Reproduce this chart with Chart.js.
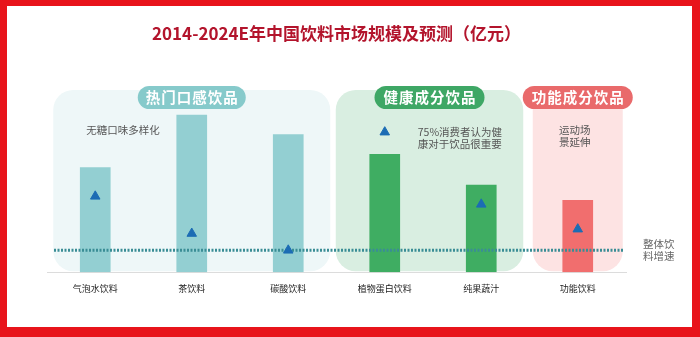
<!DOCTYPE html>
<html lang="zh">
<head>
<meta charset="utf-8">
<title>2014-2024E年中国饮料市场规模及预测</title>
<script src="https://cdn.jsdelivr.net/npm/chart.js@4.4.1/dist/chart.umd.min.js"></script>
<style>
  html, body { margin: 0; padding: 0; background: #fff; }
  canvas { display: block; }
</style>
</head>
<body>
<canvas id="grafico" width="700" height="337"></canvas>
<script>
// categorias e valores
const categorias = ["气泡水饮料", "茶饮料", "碳酸饮料", "植物蛋白饮料", "纯果蔬汁", "功能饮料"];
const grupoDaCategoria = [0, 0, 0, 1, 1, 2];
const tamanhoMercado = [48, 72, 63, 54, 40, 33];
const crescimento = [10.4, 5.3, 3.0, 19.2, 9.3, 5.9];
const crescimentoGeral = 3.0;

const grupos = ["热门口感饮品", "健康成分饮品", "功能成分饮品"];
const notas = [["无糖口味多样化"], ["75%消费者认为健", "康对于饮品很重要"], ["运动场", "景延伸"]];
const notaGeral = ["整体饮", "料增速"];

const FONTE = '"Noto Sans CJK SC", "Noto Sans", sans-serif';
const corBarra = ["#93cfd2", "#3fad62", "#f16e6e"];
const corFundo = ["#eef7f8", "#d9eee1", "#fde3e3"];
const corSelo = ["#86cacb", "#3ea765", "#e96a6b"];

function retanguloRedondo(ctx, x, y, w, h, r) {
  ctx.beginPath();
  ctx.moveTo(x + r, y);
  ctx.arcTo(x + w, y, x + w, y + h, r);
  ctx.arcTo(x + w, y + h, x, y + h, r);
  ctx.arcTo(x, y + h, x, y, r);
  ctx.arcTo(x, y, x + w, y, r);
  ctx.closePath();
}

// paineis dos grupos, selos, notas, linha de crescimento geral e moldura
const decoracao = {
  id: "decoracao",
  beforeDatasetsDraw(chart) {
    const { ctx, chartArea, scales } = chart;
    const x = i => scales.x.getPixelForValue(i);
    const paineis = [
      [x(0) - 42, x(2) + 42],
      [x(3) - 49, x(4) + 42],
      [x(5) - 45, x(5) + 45]
    ];
    ctx.save();
    paineis.forEach((p, g) => {
      ctx.fillStyle = corFundo[g];
      retanguloRedondo(ctx, p[0], 90, p[1] - p[0], chartArea.bottom - 91, 20);
      ctx.fill();
    });
    paineis.forEach((p, g) => {
      const cx = (p[0] + p[1]) / 2;
      const w = g === 0 ? 108 : 110;
      ctx.fillStyle = corSelo[g];
      retanguloRedondo(ctx, cx - w / 2, 86, w, 23, 11.5);
      ctx.fill();
      ctx.fillStyle = "#fff";
      ctx.font = "bold 14.5px " + FONTE;
      ctx.letterSpacing = "1px";
      ctx.textAlign = "center";
      ctx.textBaseline = "middle";
      ctx.fillText(grupos[g], cx + 0.5, 97.5);
    });
    ctx.letterSpacing = "0px";
    ctx.fillStyle = "#555";
    ctx.font = "10.5px " + FONTE;
    ctx.textBaseline = "middle";
    ctx.textAlign = "left";
    ctx.fillText(notas[0][0], x(0) - 9, 130);
    notas[1].forEach((t, i) => ctx.fillText(t, x(3) + 33, 132 + i * 12));
    ctx.textAlign = "center";
    notas[2].forEach((t, i) => ctx.fillText(t, x(5) - 3, 130 + i * 12));
    ctx.restore();
  },
  afterDatasetDraw(chart, args) {
    if (args.index !== 0) return;
    const { ctx, chartArea, scales } = chart;
    const y = scales.y1.getPixelForValue(crescimentoGeral);
    ctx.save();
    ctx.strokeStyle = "#3a8d95";
    ctx.lineWidth = 3;
    ctx.setLineDash([2, 1.5]);
    ctx.beginPath();
    ctx.moveTo(chartArea.left + 7, y);
    ctx.lineTo(chartArea.right - 3, y);
    ctx.stroke();
    ctx.setLineDash([]);
    ctx.fillStyle = "#666";
    ctx.font = "10.5px " + FONTE;
    ctx.textAlign = "left";
    ctx.textBaseline = "middle";
    notaGeral.forEach((t, i) => ctx.fillText(t, chartArea.right + 17, y - 6 + i * 12));
    ctx.restore();
  },
  afterDraw(chart) {
    const { ctx, width, height } = chart;
    ctx.save();
    ctx.fillStyle = "#e8141b";
    ctx.fillRect(0, 0, width, 6);
    ctx.fillRect(0, 0, 7, height);
    ctx.fillRect(width - 8, 0, 8, height);
    ctx.fillRect(0, height - 10, width, 10);
    ctx.restore();
  }
};

new Chart(document.getElementById("grafico"), {
  data: {
    labels: categorias,
    datasets: [
      {
        type: "bar",
        label: "市场规模",
        data: tamanhoMercado,
        backgroundColor: grupoDaCategoria.map(g => corBarra[g]),
        categoryPercentage: 1,
        barPercentage: 0.318,
        yAxisID: "y",
        order: 1
      },
      {
        type: "line",
        label: "增速",
        data: crescimento,
        showLine: false,
        pointStyle: "triangle",
        pointRadius: 5.5,
        pointBackgroundColor: "#1c6cb4",
        pointBorderColor: "#1c6cb4",
        pointBorderWidth: 1,
        yAxisID: "y1",
        order: 0
      }
    ]
  },
  options: {
    responsive: false,
    animation: false,
    devicePixelRatio: 1,
    layout: { padding: { left: 47, right: 74, top: 0, bottom: 32 } },
    plugins: {
      legend: { display: false },
      tooltip: { enabled: false },
      title: {
        display: true,
        text: "2014-2024E年中国饮料市场规模及预测（亿元）",
        color: "#b3142c",
        font: { family: FONTE, size: 17, weight: "bold" },
        padding: { top: 23, bottom: 10 }
      }
    },
    scales: {
      x: {
        grid: { display: false, drawTicks: false },
        border: { display: true, color: "#dcdcdc", width: 1 },
        ticks: {
          color: "#222",
          font: { family: FONTE, size: 9 },
          padding: 11,
          maxRotation: 0,
          autoSkip: false
        }
      },
      y: { display: false, min: 0, max: 100 },
      y1: { display: false, min: 0, max: 30 }
    }
  },
  plugins: [decoracao]
});
</script>
</body>
</html>
